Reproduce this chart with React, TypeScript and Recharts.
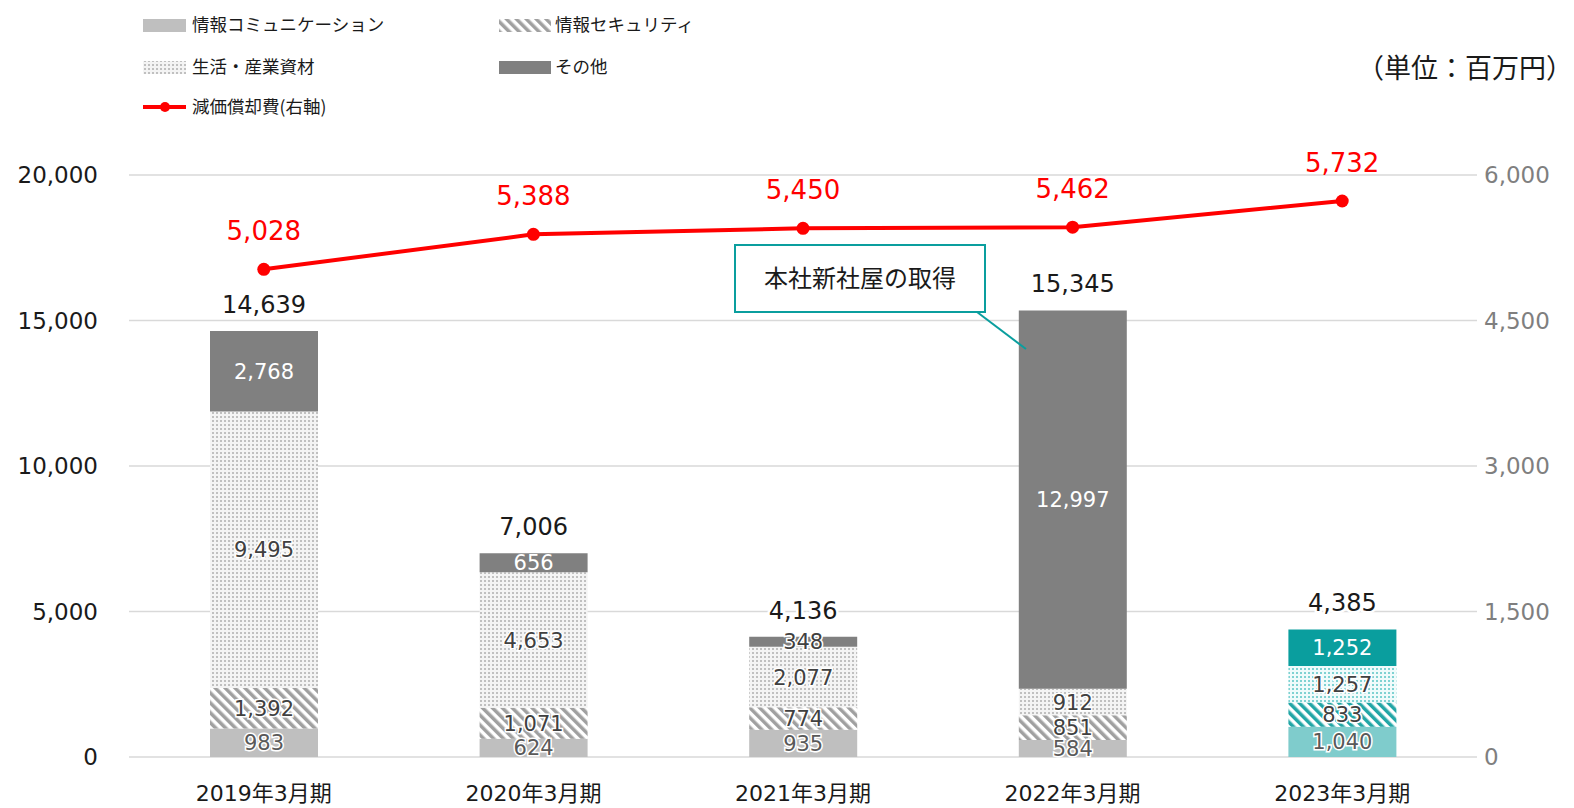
import { ComposedChart, Bar, Line, XAxis, YAxis, CartesianGrid, LabelList, Cell } from "recharts";

const categories = ["2019年3月期", "2020年3月期", "2021年3月期", "2022年3月期", "2023年3月期"];
const infoComm = [983, 624, 935, 584, 1040];
const infoSec = [1392, 1071, 774, 851, 833];
const lifeMaterials = [9495, 4653, 2077, 912, 1257];
const others = [2768, 656, 348, 12997, 1252];
const totals = [14639, 7006, 4136, 15345, 4385];
const depreciation = [5028, 5388, 5450, 5462, 5732];
const leftTicks = [0, 5000, 10000, 15000, 20000];
const rightTicks = [0, 1500, 3000, 4500, 6000];

const data = categories.map((name, i) => ({
  name,
  infoComm: infoComm[i],
  infoSec: infoSec[i],
  lifeMaterials: lifeMaterials[i],
  others: others[i],
  total: totals[i],
  depreciation: depreciation[i],
}));

const FONT = "'DejaVu Sans', 'Noto Sans CJK JP', sans-serif";
const JP = "'Noto Sans CJK JP', 'DejaVu Sans', sans-serif";
const TEAL = "#0a9e9e";
const fmt = (v: any) => Number(v).toLocaleString("en-US");
const isLast = (i: number) => i === categories.length - 1;

const Patterns = ({ p = "" }: { p?: string }) => (
  <defs>
    <pattern id={`${p}stripeGrey`} width="7" height="7" patternUnits="userSpaceOnUse" patternTransform="rotate(-45)">
      <rect width="7" height="7" fill="#ffffff" />
      <rect width="3.5" height="7" fill="#a0a0a0" />
    </pattern>
    <pattern id={`${p}stripeTeal`} width="7" height="7" patternUnits="userSpaceOnUse" patternTransform="rotate(-45)">
      <rect width="7" height="7" fill="#ffffff" />
      <rect width="3.5" height="7" fill="#22a6a6" />
    </pattern>
    <pattern id={`${p}dotGrey`} width="4" height="4" patternUnits="userSpaceOnUse">
      <rect width="4" height="4" fill="#f4f4f4" />
      <rect width="2" height="2" fill="#c0c0c0" />
    </pattern>
    <pattern id={`${p}dotTeal`} width="4" height="4" patternUnits="userSpaceOnUse">
      <rect width="4" height="4" fill="#f0fbfb" />
      <rect width="2" height="2" fill="#7fd2d2" />
    </pattern>
  </defs>
);

// label centred in a bar segment; dark text gets a white halo like the original
const makeInsideLabel = (color: (v: number) => string) => (props: any) => {
  const vb = props.viewBox || {};
  const x = Number(vb.x ?? props.x) + Number(vb.width ?? props.width) / 2;
  const y = Number(vb.y ?? props.y) + Number(vb.height ?? props.height) / 2;
  const v = Number(props.value);
  const c = color(v);
  const dark = c !== "#ffffff";
  return (
    <text
      x={x}
      y={y}
      dy="0.36em"
      textAnchor="middle"
      fill={c}
      stroke={dark ? "#ffffff" : "none"}
      strokeWidth={dark ? 3 : 0}
      paintOrder="stroke"
      fontFamily={FONT}
      fontSize={21}
    >
      {fmt(v)}
    </text>
  );
};

const commLabel = makeInsideLabel(() => "#595959");
const secLabel = makeInsideLabel(() => "#404040");
const lifeLabel = makeInsideLabel(() => "#404040");
const othersLabel = makeInsideLabel((v) => (v < 500 ? "#404040" : "#ffffff"));

const legendText = { fontFamily: JP, fontSize: 17.5, fill: "#1a1a1a" };

const LegendOverlay = () => (
  <svg width={760} height={125} style={{ position: "absolute", left: -8, top: -8 }}>
    <Patterns p="lg-" />
    <rect x={143} y={19} width={43} height={13} fill="#bfbfbf" />
    <text x={192} y={31} {...legendText}>情報コミュニケーション</text>
    <rect x={499} y={19} width={52} height={13} fill="url(#lg-stripeGrey)" />
    <text x={555} y={31} {...legendText}>情報セキュリティ</text>
    <rect x={143} y={61} width={43} height={13} fill="url(#lg-dotGrey)" />
    <text x={192} y={73} {...legendText}>生活・産業資材</text>
    <rect x={499} y={61} width={52} height={13} fill="#808080" />
    <text x={555} y={73} {...legendText}>その他</text>
    <line x1={143} y1={107} x2={186} y2={107} stroke="#ff0000" strokeWidth={4} />
    <circle cx={165} cy={107} r={5} fill="#ff0000" />
    <text x={192} y={113} {...legendText}>減価償却費(右軸)</text>
  </svg>
);

const CalloutOverlay = () => (
  <svg width={1574} height={808} style={{ position: "absolute", left: -8, top: -8, pointerEvents: "none" }}>
    <line x1={977} y1={312} x2={1026} y2={349} stroke={TEAL} strokeWidth={2} />
    <rect x={735} y={245} width={250} height={67} fill="#ffffff" stroke={TEAL} strokeWidth={2} />
    <text x={860} y={287} textAnchor="middle" fontFamily={JP} fontSize={24} fill="#1a1a1a">本社新社屋の取得</text>
    <text x={1573} y={78} textAnchor="end" fontFamily={JP} fontSize={27} fill="#1a1a1a">（単位：百万円）</text>
  </svg>
);

export default function App() {
  return (
    <div style={{ position: "relative", width: 1558, height: 800, background: "#ffffff" }}>
      <ComposedChart
        width={1558}
        height={800}
        data={data}
        margin={{ top: 167, right: 0, left: 0, bottom: 0 }}
      >
        <Patterns />
        <CartesianGrid vertical={false} stroke="#d9d9d9" strokeWidth={1.5} yAxisId="left" />
        <XAxis
          dataKey="name"
          axisLine={false}
          tickLine={false}
          tickSize={0}
          tickMargin={28}
          height={51}
          tick={{ fontFamily: FONT, fontSize: 22, fill: "#1a1a1a" }}
        />
        <YAxis
          yAxisId="left"
          orientation="left"
          width={121}
          domain={[0, 20000]}
          ticks={leftTicks}
          axisLine={false}
          tickLine={false}
          tickSize={0}
          tickMargin={31}
          tickFormatter={fmt}
          tick={{ fontFamily: FONT, fontSize: 23, fill: "#1a1a1a" }}
        />
        <YAxis
          yAxisId="right"
          orientation="right"
          width={89}
          domain={[0, 6000]}
          ticks={rightTicks}
          axisLine={false}
          tickLine={false}
          tickSize={0}
          tickMargin={7}
          tickFormatter={fmt}
          tick={{ fontFamily: FONT, fontSize: 23, fill: "#7f7f7f" }}
        />
        <Bar dataKey="infoComm" stackId="a" yAxisId="left" barSize={108} isAnimationActive={false}>
          {data.map((_, i) => (
            <Cell key={i} fill={isLast(i) ? "#7fcccc" : "#bfbfbf"} />
          ))}
          <LabelList dataKey="infoComm" position="center" content={commLabel} />
        </Bar>
        <Bar dataKey="infoSec" stackId="a" yAxisId="left" barSize={108} isAnimationActive={false}>
          {data.map((_, i) => (
            <Cell key={i} fill={isLast(i) ? "url(#stripeTeal)" : "url(#stripeGrey)"} />
          ))}
          <LabelList dataKey="infoSec" position="center" content={secLabel} />
        </Bar>
        <Bar dataKey="lifeMaterials" stackId="a" yAxisId="left" barSize={108} isAnimationActive={false}>
          {data.map((_, i) => (
            <Cell key={i} fill={isLast(i) ? "url(#dotTeal)" : "url(#dotGrey)"} />
          ))}
          <LabelList dataKey="lifeMaterials" position="center" content={lifeLabel} />
        </Bar>
        <Bar dataKey="others" stackId="a" yAxisId="left" barSize={108} isAnimationActive={false}>
          {data.map((_, i) => (
            <Cell key={i} fill={isLast(i) ? TEAL : "#808080"} />
          ))}
          <LabelList dataKey="others" position="center" content={othersLabel} />
          <LabelList
            dataKey="total"
            position="top"
            offset={18}
            formatter={fmt}
            fill="#1a1a1a"
            stroke="#ffffff"
            strokeWidth={5}
            paintOrder="stroke"
            fontFamily={FONT}
            fontSize={24}
          />
        </Bar>
        <Line
          dataKey="depreciation"
          yAxisId="right"
          type="linear"
          stroke="#ff0000"
          strokeWidth={4}
          dot={{ r: 6.5, fill: "#ff0000", stroke: "#ff0000", strokeWidth: 0 }}
          isAnimationActive={false}
        >
          <LabelList dataKey="depreciation" position="top" offset={29} formatter={fmt} fill="#ff0000" fontFamily={FONT} fontSize={26} />
        </Line>
      </ComposedChart>
      <LegendOverlay />
      <CalloutOverlay />
    </div>
  );
}
